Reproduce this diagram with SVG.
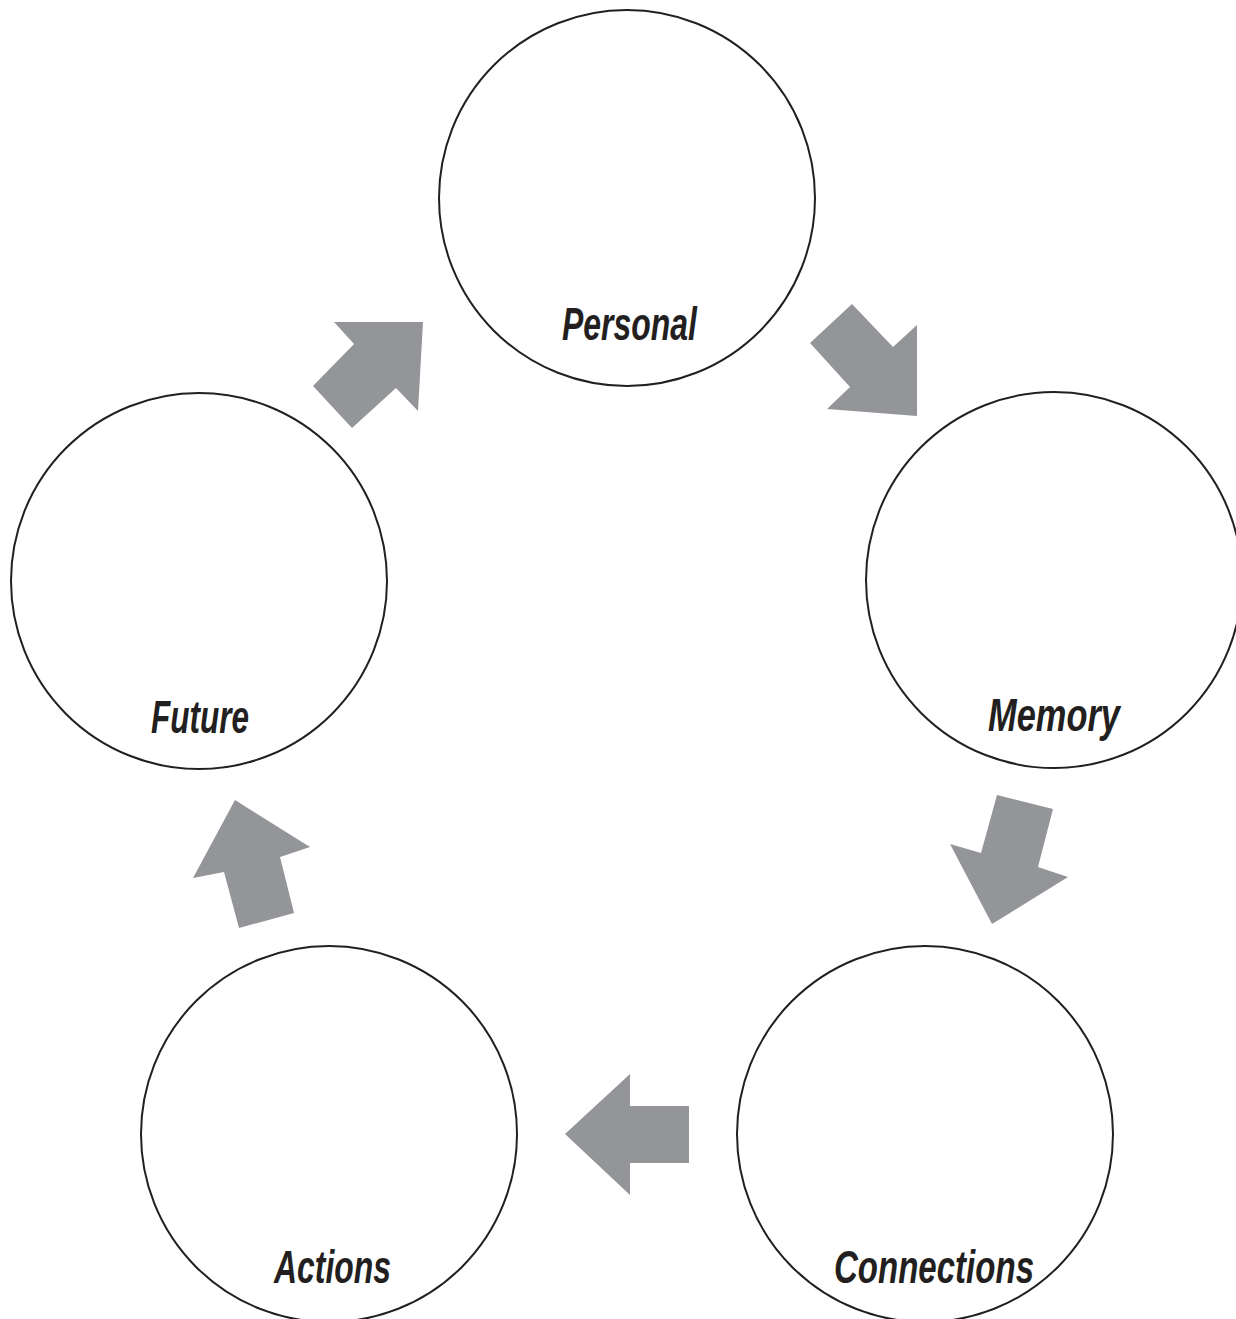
<svg xmlns="http://www.w3.org/2000/svg" width="1236" height="1319" viewBox="0 0 1236 1319">
<style>
.node circle{fill:#fff;stroke:#231f20;stroke-width:2}
.node text{font-family:"Liberation Sans Narrow","Liberation Sans",sans-serif;font-style:italic;font-weight:bold;font-size:46px;fill:#231f20}
.arrow{fill:#939598}
</style>
<rect width="1236" height="1319" fill="#fff"/>
<g id="personal" class="node"><circle cx="627" cy="198" r="188"/><text x="562" y="340" textLength="135" lengthAdjust="spacingAndGlyphs">Personal</text></g>
<g id="memory" class="node"><circle cx="1054" cy="580" r="188"/><text x="988" y="731" textLength="132" lengthAdjust="spacingAndGlyphs">Memory</text></g>
<g id="connections" class="node"><circle cx="925" cy="1134" r="188"/><text x="834" y="1283" textLength="200" lengthAdjust="spacingAndGlyphs">Connections</text></g>
<g id="actions" class="node"><circle cx="329" cy="1134" r="188"/><text x="274" y="1283" textLength="117" lengthAdjust="spacingAndGlyphs">Actions</text></g>
<g id="future" class="node"><circle cx="199" cy="581" r="188"/><text x="151" y="733" textLength="98" lengthAdjust="spacingAndGlyphs">Future</text></g>
<g id="connectors">
<polygon class="arrow" points="852,304 893,347 917,325 917,416 827,409 850,387 810,343"/>
<polygon class="arrow" points="997,795 1053,809 1038,867 1068,877 992,924 950,844 981,853"/>
<polygon class="arrow" points="630,1074 630,1106 689,1106 689,1163 630,1163 630,1195 565,1134"/>
<polygon class="arrow" points="235,800 310,847 280,857 294,913 239,928 224,872 193,878"/>
<polygon class="arrow" points="334,322 423,322 418,411 396,388 352,428 313,386 354,344"/>
</g>
</svg>
